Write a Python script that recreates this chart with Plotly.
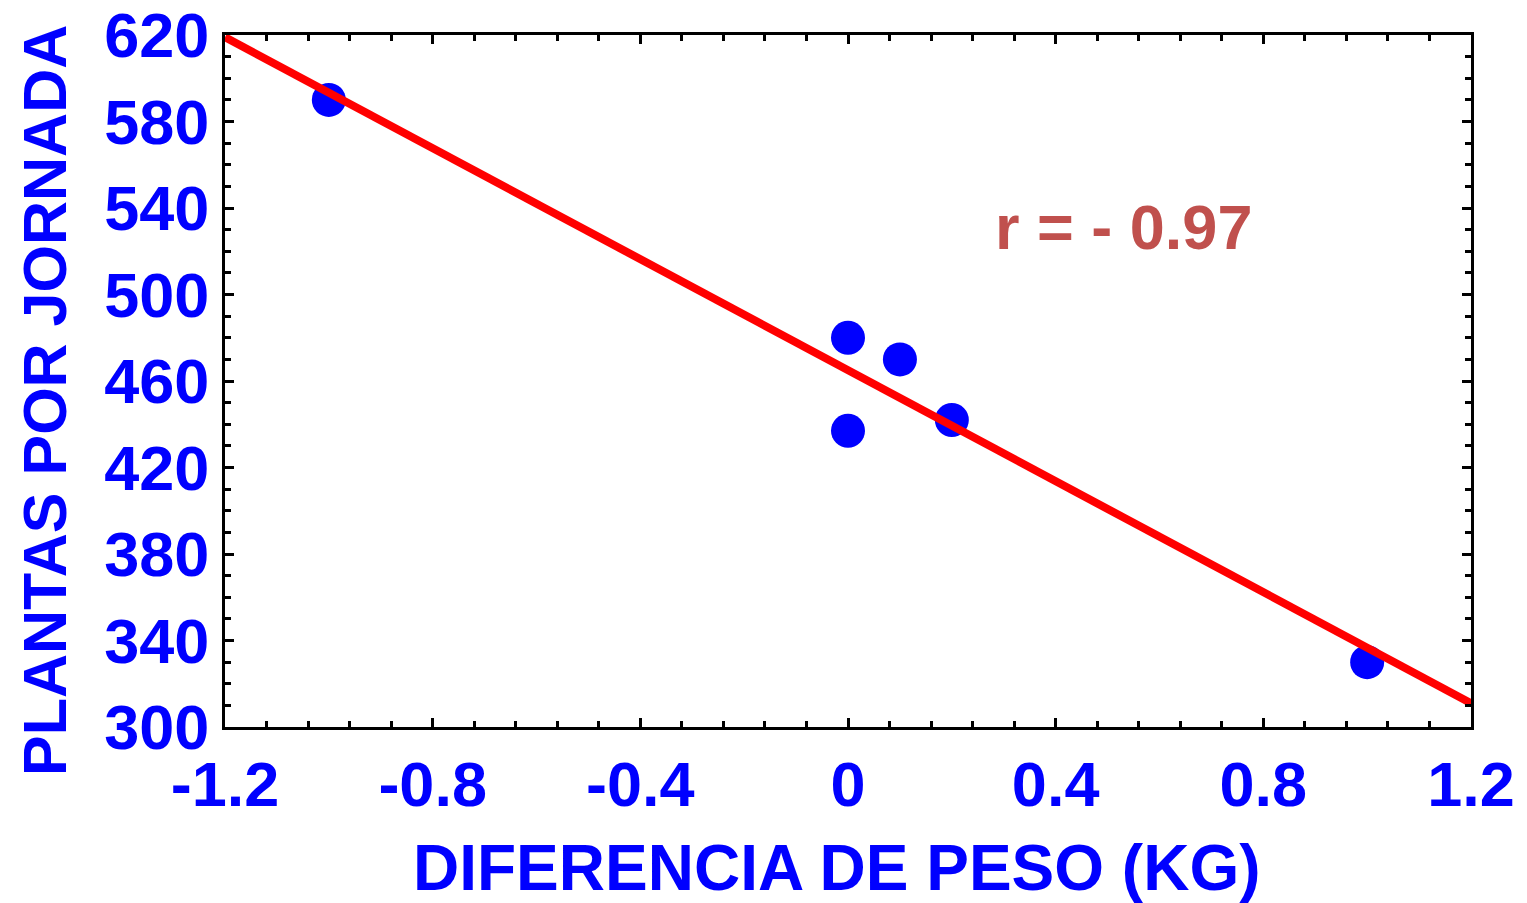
import plotly.graph_objects as go

# Data
diff_peso = [-1.0, 0.0, 0.0, 0.1, 0.2, 1.0]
plantas = [590, 480, 437, 470, 442, 330]

# Regression line end points
fit_x = [-1.2, 1.2]
fit_y = [619, 311]

x_ticks = [-1.2, -0.8, -0.4, 0, 0.4, 0.8, 1.2]
x_tick_labels = ["-1.2", "-0.8", "-0.4", "0", "0.4", "0.8", "1.2"]
y_ticks = [300, 340, 380, 420, 460, 500, 540, 580, 620]

annotation_text = "r = - 0.97"
x_title = "DIFERENCIA DE PESO (KG)"
y_title = "PLANTAS POR JORNADA"

FONT = "Liberation Sans, Arial, sans-serif"
BLUE = "#0000FF"

fig = go.Figure()
fig.add_trace(go.Scatter(
    x=diff_peso, y=plantas, mode="markers",
    marker=dict(color=BLUE, size=34, line=dict(width=0)),
    showlegend=False, cliponaxis=False,
))
fig.add_trace(go.Scatter(
    x=fit_x, y=fit_y, mode="lines",
    line=dict(color="#FF0000", width=8),
    showlegend=False, cliponaxis=False,
))

fig.add_annotation(
    x=0.53, y=531, xref="x", yref="y", text=annotation_text, showarrow=False,
    font=dict(family=FONT, size=63, color="#C0504D", weight="bold"),
)

# Axis titles placed as annotations for precise placement
fig.add_annotation(
    x=0.4904, y=-0.2038, xref="paper", yref="paper", text=x_title, showarrow=False,
    xanchor="center", yanchor="middle",
    font=dict(family=FONT, size=64, color=BLUE, weight="bold"),
)
fig.add_annotation(
    x=-0.1445, y=0.4725, xref="paper", yref="paper", text=y_title, showarrow=False,
    xanchor="center", yanchor="middle", textangle=-90,
    font=dict(family=FONT, size=61, color=BLUE, weight="bold"),
)

axis_common = dict(
    showgrid=False, zeroline=False, showline=True, linecolor="black", linewidth=3,
    ticks="inside", ticklen=9, tickwidth=3, tickcolor="black", mirror="allticks",
    tickfont=dict(family=FONT, size=63, color=BLUE, weight="bold"),
    automargin=False,
)

fig.update_xaxes(
    range=[-1.2, 1.2], tickvals=x_ticks, ticktext=x_tick_labels,
    minor=dict(ticks="inside", ticklen=6, tickwidth=3, tickcolor="black", dtick=0.08, tick0=-1.2),
    **axis_common,
)
fig.update_yaxes(
    range=[300, 620], tickvals=y_ticks,
    minor=dict(ticks="inside", ticklen=6, tickwidth=3, tickcolor="black", dtick=10, tick0=300),
    **axis_common,
)

fig.update_layout(
    width=1527, height=903,
    margin=dict(l=225, r=56, t=35, b=176),
    plot_bgcolor="white", paper_bgcolor="white",
    font=dict(family=FONT, color=BLUE),
)

fig.write_html("out.html")
